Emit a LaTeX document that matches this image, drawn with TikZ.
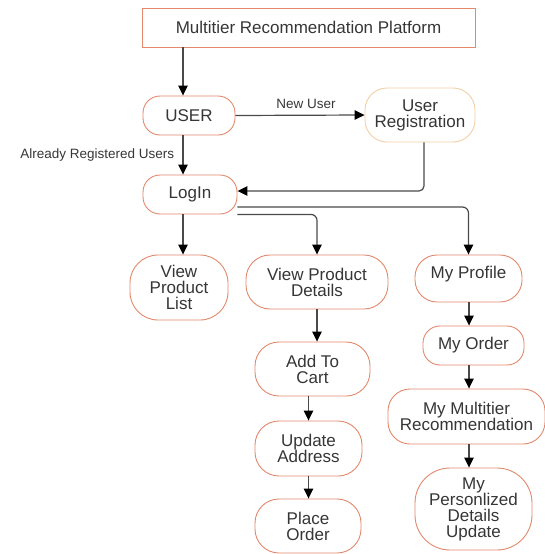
\documentclass[tikz,border=0pt]{standalone}
\usepackage{fontspec}
\setmainfont{Liberation Sans}
\usetikzlibrary{arrows.meta,positioning}
\definecolor{salmonx}{HTML}{E3886C}
\definecolor{peachx}{HTML}{F3CFA6}
\definecolor{inkx}{HTML}{363636}
\definecolor{linex}{HTML}{4A4A4A}
\tikzset{
  box/.style={draw=salmonx,line width=0.9pt,rounded corners=17pt,fill=white,align=center,inner sep=0pt,text=inkx,font=\fontsize{17}{16}\selectfont},
  ar/.style={-{Triangle[length=10pt,width=9.5pt,color=black]},line width=1.2pt,linex},
  lbl/.style={text=inkx,font=\fontsize{13.5}{14}\selectfont}
}
\begin{document}
\begin{tikzpicture}[x=1pt,y=-1pt]
\useasboundingbox (0,0) rectangle (545,554);
% nodes
\node[box,sharp corners,minimum width=333pt,minimum height=39pt] (top) at (308.5,27.5) {Multitier Recommendation Platform};
\node[box,minimum width=92pt,minimum height=39pt] (user) at (189,115.5) {USER};
\node[box,draw=peachx,rounded corners=22pt,minimum width=110pt,minimum height=54pt] (reg) at (420,115) {User\\Registration};
\node[box,minimum width=94pt,minimum height=39pt] (login) at (190,194.5) {LogIn};
\node[box,rounded corners=28pt,minimum width=98pt,minimum height=65pt] (vpl) at (179,287.5) {View\\Product\\List};
\node[box,rounded corners=24pt,minimum width=142pt,minimum height=54pt] (vpd) at (317,282) {View Product\\Details};
\node[box,rounded corners=22pt,minimum width=107pt,minimum height=47pt,text height=12pt,text depth=12pt] (prof) at (468.5,278.5) {My Profile};
\node[box,rounded corners=24pt,minimum width=115pt,minimum height=54pt] (cart) at (312.5,369) {Add To\\Cart};
\node[box,rounded corners=24pt,minimum width=107pt,minimum height=55pt] (addr) at (308.5,448.5) {Update\\Address};
\node[box,rounded corners=24pt,minimum width=106pt,minimum height=54pt] (place) at (308,526) {Place\\Order};
\node[box,minimum width=101pt,minimum height=39pt] (order) at (473.5,345.5) {My Order};
\node[box,rounded corners=22pt,minimum width=157pt,minimum height=55pt] (mmr) at (466.5,416.5) {My Multitier\\Recommendation};
\node[box,rounded corners=35pt,minimum width=117pt,minimum height=82pt] (pers) at (473.5,509) {My\\Personlized\\Details\\Update};
\coordinate (lx) at (183,0);
\coordinate (rx) at (469,0);
% arrows
\draw[ar] (top.south -| lx) -- (user.north -| lx);
\draw[ar] (user.south -| lx) -- node[lbl,left,xshift=-5pt]{Already Registered Users} (login.north -| lx);
\draw[ar] (user.east) -- node[lbl,above,xshift=6pt,yshift=3pt]{New User} (reg.west);
\draw[ar,rounded corners=5pt] ([xshift=4pt]reg.south) |- ([yshift=3.5pt]login.east);
\draw[ar] (login.south -| lx) -- (vpl.north -| lx);
\draw[ar,rounded corners=6pt] (login.south east) -| (vpd.north);
\draw[ar,rounded corners=6pt] ([yshift=-12.5pt]login.east) -| (prof.north);
\draw[ar] (vpd.south) -- (vpd.south |- cart.north);
\draw[ar] (cart.south -| addr.north) -- (addr.north);
\draw[ar] (addr.south) -- (addr.south |- place.north);
\draw[ar] (prof.south -| rx) -- (order.north -| rx);
\draw[ar] (order.south -| rx) -- (mmr.north -| rx);
\draw[ar] (mmr.south -| rx) -- (pers.north -| rx);
\end{tikzpicture}
\end{document}
